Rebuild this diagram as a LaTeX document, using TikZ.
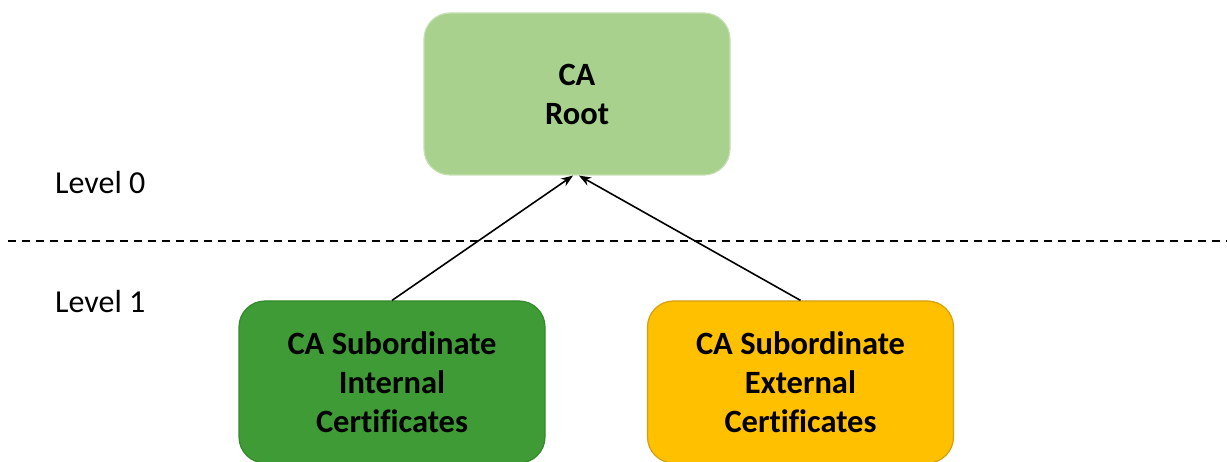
\documentclass[tikz,border=0pt]{standalone}
\usepackage{fontspec}
\setmainfont{Carlito}[Ligatures=NoCommon]
\usetikzlibrary{arrows.meta}
\definecolor{rootfill}{HTML}{A9D18E}
\definecolor{rootdraw}{HTML}{C5E0B4}
\definecolor{intfill}{HTML}{3E9B35}
\definecolor{intdraw}{HTML}{358A2C}
\definecolor{extfill}{HTML}{FFC000}
\definecolor{extdraw}{HTML}{D4A010}
\tikzset{
  box/.style={rectangle, rounded corners=26pt, minimum width=306pt, minimum height=162pt,
    line width=1.2pt, align=center, font=\fontsize{32.5}{39}\selectfont\bfseries, inner sep=0pt},
  levellabel/.style={anchor=west, font=\fontsize{32}{38}\selectfont, inner sep=0pt},
  link/.style={line width=1.6pt, -{Stealth[length=12pt,width=9pt]}},
  sep/.style={line width=1.3pt, dash pattern=on 8pt off 6pt}
}
\begin{document}
\begin{tikzpicture}[x=1pt,y=-1pt]
\useasboundingbox (0,0) rectangle (1227,462);
\begin{scope}
\clip (0,0) rectangle (1227,462);
\node[box, fill=rootfill, draw=rootdraw] (root) at (577,94) {CA\\Root};
\node[box, fill=intfill, draw=intdraw] (int) at (392,382) {CA Subordinate\\Internal\\Certificates};
\node[box, fill=extfill, draw=extdraw] (ext) at (800.5,382) {CA Subordinate\\External\\Certificates};
\end{scope}
\node[levellabel] (l0) at (55,183) {Level 0};
\node[levellabel] (l1) at (55,302) {Level 1};
\coordinate (sepa) at (8,241);
\coordinate (sepb) at (1227,241);
\draw[sep] (sepa) -- (sepb);
\draw[link] (int.north) -- ([xshift=-4pt]root.south);
\draw[link] (ext.north) -- ([xshift=2pt]root.south);
\end{tikzpicture}
\end{document}
